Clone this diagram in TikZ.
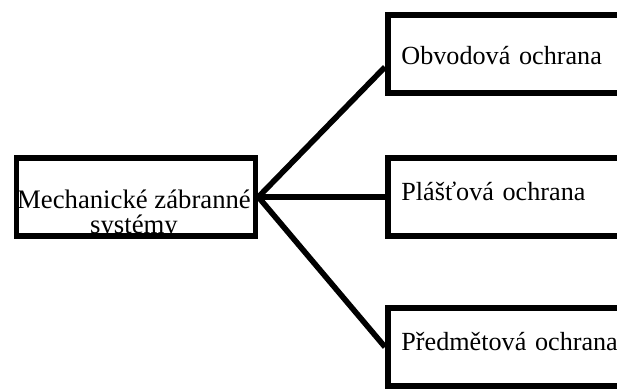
\documentclass[tikz,border=0pt]{standalone}
\usepackage{fontspec}
\setmainfont{Liberation Serif}
\begin{document}
\begin{tikzpicture}[x=0.025cm,y=-0.025cm,
    box/.style={draw,line width=4pt,rectangle,inner sep=0pt},
    part/.style={box,anchor=west,minimum height=1.95cm,text width=6.15cm,
      inner xsep=0.34cm,align=left,font=\fontsize{18.6}{22}\selectfont},
    wire/.style={line width=4pt}]
  \useasboundingbox (0,0) rectangle (617,388);
  \clip (0,0) rectangle (617,388);
  % left box
  \node[box,minimum width=5.975cm,minimum height=1.94cm] (sys) at (136,197) {};
  \node[align=center,inner sep=0pt,font=\fontsize{19}{18.2}\selectfont] (systext) at (134,214.5) {Mechanické zábranné\\systémy};
  % right boxes
  \node[part,text height=0.525cm,text depth=0cm] (obv) at (385,54) {Obvodová ochrana};
  \node[part,text height=0.2cm,text depth=0.05cm] (pla) at (385,197) {Plášťová ochrana};
  \node[part,text height=0.2cm,text depth=0.05cm] (pred) at (385,347) {Předmětová ochrana};
  % connectors
  \draw[wire] (sys.east) -- ([yshift=-0.325cm]obv.west);
  \draw[wire] (sys.east) -- (pla.west);
  \draw[wire] (sys.east) -- (pred.west);
\end{tikzpicture}
\end{document}
